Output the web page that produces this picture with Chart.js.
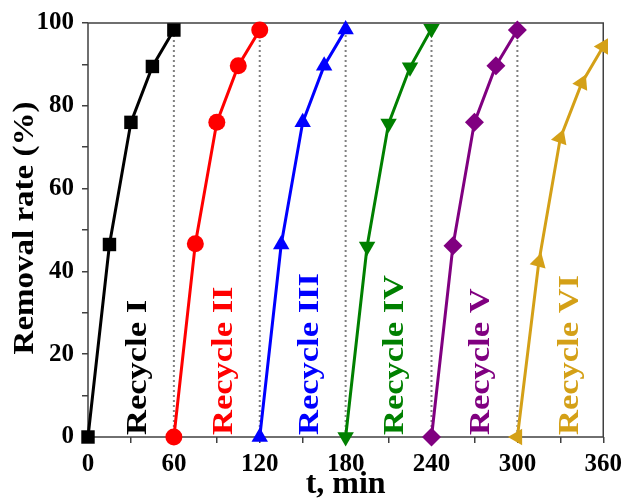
<!DOCTYPE html>
<html>
<head>
<meta charset="utf-8">
<script src="https://cdn.jsdelivr.net/npm/chart.js@4/dist/chart.umd.min.js"></script>
<style>
    html, body { margin: 0; padding: 0; background: #fff; }
    #chart { display: block; }
</style>
</head>
<body>
<canvas id="chart" width="629" height="504"></canvas>
<script>
// time inside one cycle (min) and where each cycle starts
const minutes = [0, 15, 30, 45, 60];
const cycleStart = [0, 60, 120, 180, 240, 300];
const cycleNames = ['Recycle I', 'Recycle II', 'Recycle III', 'Recycle IV', 'Recycle V', 'Recycle VI'];

// removal rate (%)
const recycle1 = [0, 46.5, 76, 89.5, 98.3];
const recycle2 = [0, 46.7, 76, 89.7, 98.3];
const recycle3 = [0, 46.5, 76, 89.7, 98.4];
const recycle4 = [0, 46, 75.7, 89.3, 98.6];
const recycle5 = [0, 46.2, 76, 89.7, 98.3];
const recycle6 = [0, 42.3, 72.2, 85.5, 94.3];

// dotted separators between the cycles
const separators = [60, 120, 180, 240, 300];
const separatorTop = 98;

const xLabels = [0, 60, 120, 180, 240, 300, 360];
const yLabels = [0, 20, 40, 60, 80, 100];

const xTitle = 't, min';
const yTitle = 'Removal rate (%)';

const colors = ['#000000', '#ff0000', '#0000ff', '#008000', '#800080', '#d4a017'];
const markers = ['rect', 'circle', 'triangle', 'triangle', 'rectRot', 'triangle'];
const markerSize = [9.5, 8.5, 9.5, 9.5, 9.5, 9.5];
const markerTurn = [0, 0, 0, 180, 0, [-90, 15, 20, 25, 30]];

const FONT = '"Liberation Serif"';

const allCycles = [recycle1, recycle2, recycle3, recycle4, recycle5, recycle6];

function createCycleDataset(values, i) {
    return {
        data: values.map((v, k) => ({ x: cycleStart[i] + minutes[k], y: v })),
        borderColor: colors[i],
        backgroundColor: colors[i],
        borderWidth: 3,
        pointStyle: markers[i],
        pointRadius: markerSize[i],
        pointHoverRadius: markerSize[i],
        pointRotation: markerTurn[i],
        pointBorderWidth: 0,
        clip: false,
        order: 1
    };
}

function createSeparator(x) {
    return {
        data: [{ x: x, y: 0 }, { x: x, y: separatorTop }],
        borderColor: '#808080',
        borderWidth: 2,
        borderDash: [2, 3],
        pointRadius: 0,
        clip: false,
        order: 10
    };
}

const datasets = allCycles.map(createCycleDataset).concat(separators.map(createSeparator));

const framePlugin = {
    id: 'frame',
    beforeDatasetsDraw(chart) {
        const a = chart.chartArea;
        const ctx = chart.ctx;
        ctx.save();
        ctx.strokeStyle = '#404040';
        ctx.lineWidth = 1.5;
        ctx.strokeRect(a.left, a.top, a.right - a.left, a.bottom - a.top);
        ctx.restore();
    }
};

function drawUpText(ctx, text, x, y, stretch, align) {
    ctx.save();
    ctx.translate(x, y);
    ctx.rotate(-Math.PI / 2);
    ctx.scale(stretch, 1);
    ctx.textAlign = align;
    ctx.textBaseline = 'middle';
    ctx.fillText(text, 0, 0);
    ctx.restore();
}

const textPlugin = {
    id: 'texts',
    afterDraw(chart) {
        const ctx = chart.ctx;
        const xs = chart.scales.x;
        const a = chart.chartArea;
        ctx.save();
        ctx.font = 'bold 30px ' + FONT;
        cycleNames.forEach((name, i) => {
            ctx.fillStyle = colors[i];
            const shift = i === 5 ? 37 : 35;
            drawUpText(ctx, name, xs.getPixelForValue(cycleStart[i] + shift), a.bottom - 2, 1.15, 'left');
        });
        ctx.fillStyle = '#000';
        drawUpText(ctx, yTitle, 25, (a.top + a.bottom) / 2 - 2, 1.1, 'center');
        ctx.font = 'bold 32px ' + FONT;
        ctx.textAlign = 'center';
        ctx.textBaseline = 'middle';
        ctx.fillText(xTitle, (a.left + a.right) / 2, 485);
        ctx.restore();
    }
};

const tickFont = { family: FONT, size: 25, weight: 'bold' };

function makeChart() {
    chart = new Chart(document.getElementById('chart'), {
        type: 'line',
        data: { datasets: datasets },
        options: {
            responsive: false,
            animation: false,
            layout: { padding: { top: 23, right: 24, left: 0, bottom: 0 } },
            scales: {
                x: {
                    type: 'linear',
                    min: 0,
                    max: 360,
                    afterFit: scale => { scale.height = 67; },
                    border: { display: false },
                    grid: { drawOnChartArea: false, tickLength: 6, color: '#404040', lineWidth: 1.5 },
                    ticks: {
                        stepSize: 30,
                        color: '#000',
                        font: tickFont,
                        padding: 7,
                        maxRotation: 0,
                        autoSkip: false,
                        callback: v => xLabels.includes(v) ? v : ''
                    }
                },
                y: {
                    min: 0,
                    max: 100,
                    afterFit: scale => { scale.width = 88; },
                    border: { display: false },
                    grid: { drawOnChartArea: false, tickLength: 6, color: '#404040', lineWidth: 1.5 },
                    ticks: {
                        stepSize: 10,
                        color: '#000',
                        font: tickFont,
                        padding: 8,
                        autoSkip: false,
                        callback: v => yLabels.includes(v) ? v : ''
                    }
                }
            },
            plugins: {
                legend: { display: false },
                tooltip: { enabled: false }
            }
        },
        plugins: [framePlugin, textPlugin]
    });
}

// make sure the serif font is ready before the first draw
document.fonts.load('bold 30px "Liberation Serif"').then(makeChart, makeChart);
</script>
</body>
</html>
